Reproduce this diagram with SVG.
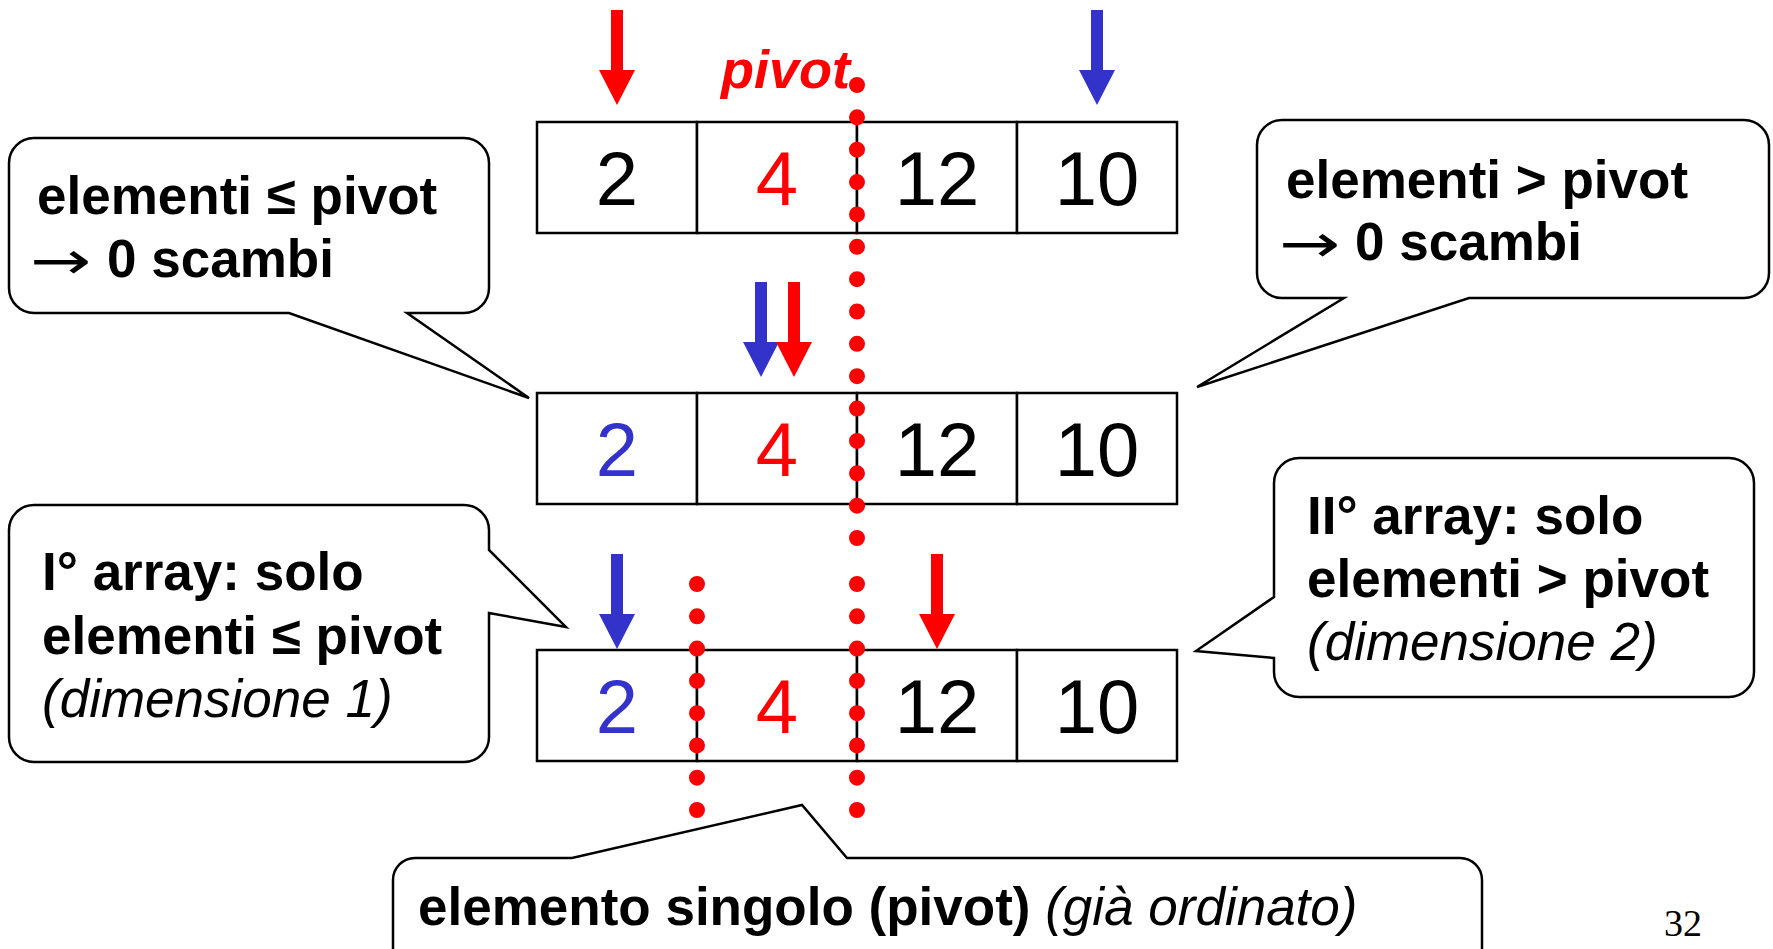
<svg xmlns="http://www.w3.org/2000/svg" xmlns:xlink="http://www.w3.org/1999/xlink" width="1773" height="949" viewBox="0 0 1773 949">
  <style>
    .cell { fill: #ffffff; stroke: #000000; stroke-width: 2.5; }
    .num { font-family: "Liberation Sans", Arial, sans-serif; font-size: 76px; text-anchor: middle; }
    .blk { fill: #000000; }
    .red { fill: #FF0000; }
    .blue { fill: #3333CC; }
    .callout { fill: #ffffff; stroke: #000000; stroke-width: 2.5; stroke-linejoin: miter; }
    .ctext { font-family: "Liberation Sans", Arial, sans-serif; font-size: 53px; fill: #000000; }
    .b { font-weight: bold; }
    .i { font-style: italic; }
    .arr { font-family: "DejaVu Sans", sans-serif; font-weight: normal; font-size: 53px; fill: #000000; }
    .dots { fill: none; stroke: #FF0000; stroke-width: 16; stroke-linecap: round; }
  </style>
  <defs>
    <path id="arrow" d="M -6,-95 H 6 V -35 H 18 L 0,0 L -18,-35 H -6 Z"/>
  </defs>
  <rect width="1773" height="949" fill="#ffffff"/>

  <g id="array1">
    <rect class="cell" x="537" y="122" width="160" height="111"/>
    <rect class="cell" x="697" y="122" width="160" height="111"/>
    <rect class="cell" x="857" y="122" width="160" height="111"/>
    <rect class="cell" x="1017" y="122" width="160" height="111"/>
    <text class="num blk" x="617" y="205">2</text>
    <text class="num red" x="777" y="205">4</text>
    <text class="num blk" x="937" y="205">12</text>
    <text class="num blk" x="1097" y="205">10</text>
  </g>

  <g id="array2">
    <rect class="cell" x="537" y="393" width="160" height="111"/>
    <rect class="cell" x="697" y="393" width="160" height="111"/>
    <rect class="cell" x="857" y="393" width="160" height="111"/>
    <rect class="cell" x="1017" y="393" width="160" height="111"/>
    <text class="num blue" x="617" y="476">2</text>
    <text class="num red" x="777" y="476">4</text>
    <text class="num blk" x="937" y="476">12</text>
    <text class="num blk" x="1097" y="476">10</text>
  </g>

  <g id="array3">
    <rect class="cell" x="537" y="650" width="160" height="111"/>
    <rect class="cell" x="697" y="650" width="160" height="111"/>
    <rect class="cell" x="857" y="650" width="160" height="111"/>
    <rect class="cell" x="1017" y="650" width="160" height="111"/>
    <text class="num blue" x="617" y="733">2</text>
    <text class="num red" x="777" y="733">4</text>
    <text class="num blk" x="937" y="733">12</text>
    <text class="num blk" x="1097" y="733">10</text>
  </g>

  <g id="pivot-label">
    <text class="ctext b i" x="721" y="88" style="font-size:54px; fill:#FF0000">pivot</text>
  </g>

  <g id="connectors">
    <path class="dots" d="M 857,85 V 539.5" stroke-dasharray="0 32.357"/>
    <path class="dots" d="M 857,584 V 811.5" stroke-dasharray="0 32.286"/>
    <path class="dots" d="M 697,584 V 811.5" stroke-dasharray="0 32.286"/>
    <use xlink:href="#arrow" href="#arrow" transform="translate(617,105)" fill="#FF0000"/>
    <use xlink:href="#arrow" href="#arrow" transform="translate(1097,105)" fill="#3333CC"/>
    <use xlink:href="#arrow" href="#arrow" transform="translate(761,377)" fill="#3333CC"/>
    <use xlink:href="#arrow" href="#arrow" transform="translate(794,377)" fill="#FF0000"/>
    <use xlink:href="#arrow" href="#arrow" transform="translate(617,649)" fill="#3333CC"/>
    <use xlink:href="#arrow" href="#arrow" transform="translate(937,649)" fill="#FF0000"/>
  </g>

  <g id="callout-left-top">
    <path class="callout" d="M 34,138 H 464 A 25,25 0 0 1 489,163 V 288 A 25,25 0 0 1 464,313 H 407 L 529,398 L 289,313 H 34 A 25,25 0 0 1 9,288 V 163 A 25,25 0 0 1 34,138 Z"/>
    <text class="ctext b" x="37" y="214">elementi ≤ pivot</text>
    <text class="arr" transform="translate(30,279) scale(1.38,1)">→</text>
    <text class="ctext b" x="107" y="277">0 scambi</text>
  </g>

  <g id="callout-right-top">
    <path class="callout" d="M 1282,120 H 1744 A 25,25 0 0 1 1769,145 V 273 A 25,25 0 0 1 1744,298 H 1469 L 1197,387 L 1344,298 H 1282 A 25,25 0 0 1 1257,273 V 145 A 25,25 0 0 1 1282,120 Z"/>
    <text class="ctext b" x="1286" y="198">elementi &gt; pivot</text>
    <text class="arr" transform="translate(1279,262) scale(1.38,1)">→</text>
    <text class="ctext b" x="1355" y="260">0 scambi</text>
  </g>

  <g id="callout-left-bottom">
    <path class="callout" d="M 34,505 H 464 A 25,25 0 0 1 489,530 V 550 L 566,627 L 489,613 V 737 A 25,25 0 0 1 464,762 H 34 A 25,25 0 0 1 9,737 V 530 A 25,25 0 0 1 34,505 Z"/>
    <text class="ctext b" x="42" y="590">I° array: solo</text>
    <text class="ctext b" x="42" y="654">elementi ≤ pivot</text>
    <text class="ctext i" x="42" y="717">(dimensione 1)</text>
  </g>

  <g id="callout-right-bottom">
    <path class="callout" d="M 1299,458 H 1729 A 25,25 0 0 1 1754,483 V 672 A 25,25 0 0 1 1729,697 H 1299 A 25,25 0 0 1 1274,672 V 658 L 1196,651 L 1274,597 V 483 A 25,25 0 0 1 1299,458 Z"/>
    <text class="ctext b" x="1307" y="534">II° array: solo</text>
    <text class="ctext b" x="1307" y="597">elementi &gt; pivot</text>
    <text class="ctext i" x="1307" y="660">(dimensione 2)</text>
  </g>

  <g id="callout-bottom">
    <path class="callout" d="M 393,990 V 880 A 22,22 0 0 1 415,858 H 572 L 802,805 L 847,858 H 1460 A 22,22 0 0 1 1482,880 V 990 Z"/>
    <text class="ctext" x="418" y="925"><tspan class="b">elemento singolo (pivot)</tspan> <tspan class="i">(già ordinato)</tspan></text>
  </g>

  <g id="page-number">
    <text x="1664" y="936" style="font-family:'Liberation Serif','Times New Roman',serif; font-size:38px; fill:#000000">32</text>
  </g>
</svg>
